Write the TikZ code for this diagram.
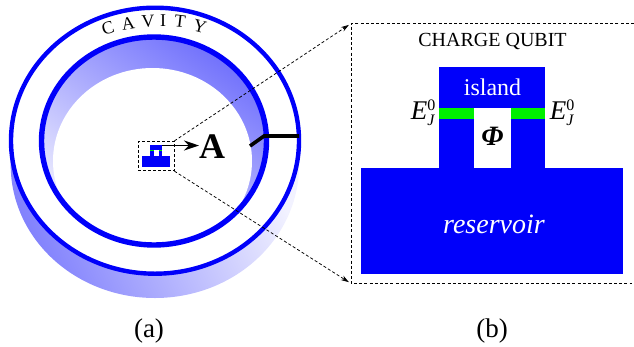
\documentclass[tikz,border=0pt]{standalone}
\usepackage{fontspec}
\setmainfont{Liberation Serif}
\usetikzlibrary{arrows.meta}
\definecolor{qblue}{RGB}{0,0,250}
\definecolor{qgreen}{RGB}{0,240,0}
\newcommand{\ejlabel}{{\itshape E\rlap{\raisebox{-5.5pt}{\fontsize{16}{16}\selectfont J}}\raisebox{9pt}{\upshape\fontsize{16}{16}\selectfont 0}}}
\tikzset{
  x=1pt,y=-1pt,
  ring/.style={draw=qblue,fill=none},
  metal/.style={fill=qblue,draw=none},
  junction/.style={fill=qgreen,draw=none},
  zoomline/.style={draw=black,dash pattern=on 3pt off 2.2pt,line width=0.75pt},
  lab/.style={inner sep=0pt,text=black},
  cav/.style={lab,font=\fontsize{18}{18}\selectfont},
}
\begin{document}
\begin{tikzpicture}
\useasboundingbox (0,0) rectangle (634,346);
% outer body
\shade[top color=qblue!50,bottom color=qblue!5,shading angle=115]
  (10.7,140.7) -- (10.7,165) arc[x radius=144.2,y radius=133,start angle=180,end angle=0] -- (299,140.7) -- cycle;
\fill[white] (155,140.7) ellipse[x radius=144,y radius=133];
% inner wall
\begin{scope}
\clip (154,141) ellipse[x radius=112.5,y radius=104];
\shade[top color=qblue!56,bottom color=qblue!5,shading angle=-35] (40,36) rectangle (268,246);
\fill[white] (152.5,161) ellipse[x radius=99.5,y radius=93];
\end{scope}
\draw[ring,line width=4.4pt] (155,140.7) ellipse[x radius=144,y radius=133];
\draw[ring,line width=5.4pt] (154,141) ellipse[x radius=112.5,y radius=104];
% text on the cavity
\node[cav,rotate=17] (cC) at (108,28) {C};
\node[cav,rotate=9] (cA) at (128,24) {A};
\node[cav,rotate=3] (cV) at (148,21.5) {V};
\node[cav] (cI) at (163,21) {I};
\node[cav,rotate=-7] (cT) at (180,21.5) {T};
\node[cav,rotate=-15] (cY) at (200,26.5) {Y};
% small qubit
\fill[metal] (141.7,155.5) rectangle (170,167);
\fill[metal] (150,145) rectangle (162,150);
\fill[metal] (150,151) rectangle (153.5,156);
\fill[metal] (158.5,151) rectangle (162,156);
\fill[junction] (150,149.5) rectangle (153.5,151);
\fill[junction] (158.5,149.5) rectangle (162,151);
\node[draw=black,dash pattern=on 3pt off 2pt,line width=0.75pt,minimum width=36pt,minimum height=29.5pt,inner sep=0pt] (smallbox) at (156,156) {};
% arrow and A
\coordinate (astart) at (162,145.5);
\coordinate (aend) at (199,145.5);
\node[lab,font=\fontsize{36}{36}\selectfont\bfseries] (A) at (212,147) {A};
\draw[line width=1.3pt,-{Stealth[length=15pt,width=10pt]}] (astart) -- (aend);
% coupler
\coordinate (c1) at (299,136);
\coordinate (c2) at (264,136);
\coordinate (c3) at (250,146);
\draw[line width=3.6pt,black] (c1) -- (c2) -- (c3);
% large frame
\coordinate (bl) at (351,283.5);
\coordinate (tl) at (351,23.5);
\coordinate (tr) at (634,23.5);
\coordinate (br) at (632,283.5);
\draw[zoomline] (tr) -- (tl) -- (bl) -- (br);
\draw[zoomline,-{Stealth[length=8pt,width=5pt]},shorten >=2.5pt] (smallbox.north east) -- (tl);
\draw[zoomline,-{Stealth[length=8pt,width=5pt]},shorten >=2.5pt] (smallbox.south east) -- (bl);
% large qubit
\fill[metal] (360.7,168) rectangle (623,274);
\fill[metal] (439,67) rectangle (545,108);
\fill[metal] (439,119) rectangle (473.5,168);
\fill[metal] (511,119) rectangle (545,168);
\fill[junction] (439,108) rectangle (473.5,119);
\fill[junction] (511,108) rectangle (545,119);
\node[lab,font=\fontsize{20}{20}\selectfont] (title) at (492.5,41) {CHARGE QUBIT};
\node[lab,text=white,font=\fontsize{24}{24}\selectfont] (island) at (492.5,87) {island};
\node[lab,text=white,font=\fontsize{28}{28}\selectfont\itshape] (res) at (494,224) {reservoir};
\node[lab,font=\fontsize{28}{28}\selectfont\itshape\bfseries] (phi) at (492.5,136.5) {\char"03A6};
\node[lab,font=\fontsize{27}{27}\selectfont] (ej1) at (423,113) {\ejlabel};
\node[lab,font=\fontsize{27}{27}\selectfont] (ej2) at (562,113) {\ejlabel};
\node[lab,font=\fontsize{27}{27}\selectfont] (a) at (149,331) {(a)};
\node[lab,font=\fontsize{27}{27}\selectfont] (b) at (492,331) {(b)};
\end{tikzpicture}
\end{document}
